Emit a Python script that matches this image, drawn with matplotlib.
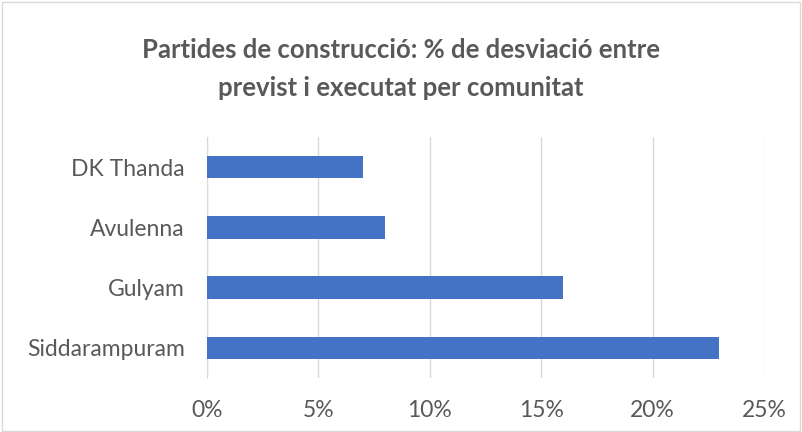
import matplotlib
matplotlib.use("Agg")
import matplotlib.pyplot as plt
from matplotlib.patches import Rectangle
from matplotlib.ticker import FuncFormatter

categories = ["Siddarampuram", "Gulyam", "Avulenna", "DK Thanda"]
values = [23, 16, 8, 7]
xticks = [0, 5, 10, 15, 20, 25]

plt.rcParams['font.family'] = ['Lato', 'DejaVu Sans']

fig = plt.figure(figsize=(8.02, 4.32), dpi=100)
fig.patches.append(Rectangle((0.002, 0.002), 0.996, 0.993, transform=fig.transFigure,
                             fill=False, edgecolor='#d9d9d9', linewidth=1))

ax = fig.add_axes([207/802, 1-378/432, (764-207)/802, (378-137)/432])
ax.barh(range(len(categories)), values, height=0.37, color='#4472c4', zorder=3)
ax.set_xlim(0, 25)
ax.set_ylim(-0.5, len(categories)-0.5)
ax.set_xticks(xticks)
ax.xaxis.set_major_formatter(FuncFormatter(lambda v, p: f"{int(v)}%"))
ax.set_yticks(range(len(categories)))
ax.set_yticklabels(categories)
ax.grid(axis='x', color='#d9d9d9', linewidth=1, zorder=0)
for s in ['top', 'right', 'bottom']:
    ax.spines[s].set_visible(False)
ax.spines['left'].set_color('#d9d9d9')
ax.tick_params(axis='both', length=0, labelsize=16.5, colors='#595959')
ax.tick_params(axis='x', pad=16)
ax.tick_params(axis='y', pad=16)

fig.text(0.5, 1-50/432, "Partides de construcció: % de desviació entre", ha='center', va='center',
         fontsize=18.5, fontweight='bold', color='#595959')
fig.text(0.5, 1-88/432, "previst i executat per comunitat", ha='center', va='center',
         fontsize=18.5, fontweight='bold', color='#595959')

fig.savefig("out.png", dpi=100)
